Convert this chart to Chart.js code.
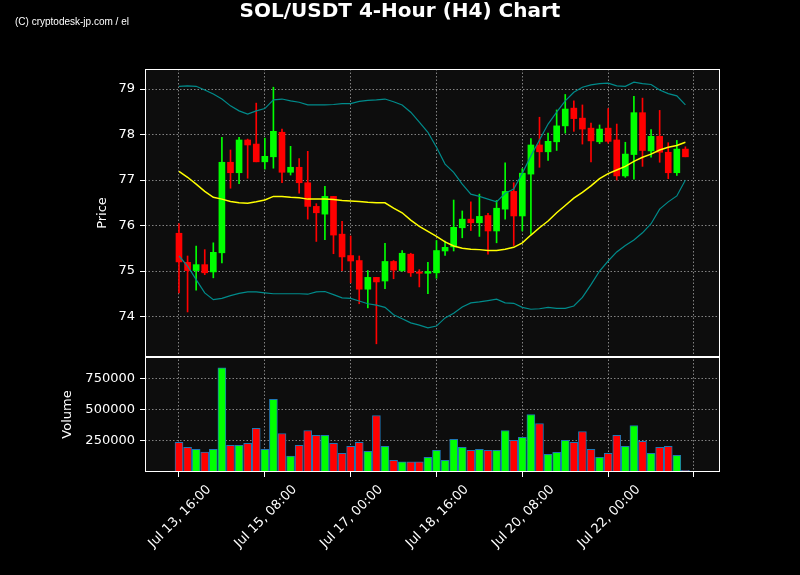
<!DOCTYPE html>
<html>
<head>
<meta charset="utf-8">
<title>SOL/USDT 4-Hour (H4) Chart</title>
<script src="https://cdn.jsdelivr.net/npm/chart.js@4.4.1/dist/chart.umd.min.js"></script>
<style>
  html, body { margin: 0; padding: 0; background: #000; }
  #wrap { position: relative; width: 800px; height: 575px; overflow: hidden; }
  #chart { position: absolute; left: 0; top: 0; }
  #title { position: absolute; left: 0; top: 0; width: 800px; text-align: center;
           font: bold 20px/20px "DejaVu Sans"; color: #fff; }
  #credit { position: absolute; left: 15px; top: 17px; font: 10px/10px "Liberation Sans"; color: #fff; }
</style>
</head>
<body>
<div id="wrap">
  <canvas id="chart" width="800" height="575"></canvas>
  <div id="title">SOL/USDT 4-Hour (H4) Chart</div>
  <div id="credit">(C) cryptodesk-jp.com / el</div>
</div>
<script>
// 4h candles, index 0 = Jul 13 16:00
const tickPositions = [0, 10, 20, 30, 40, 50, 60];
const tickLabels = ["Jul 13, 16:00", "Jul 15, 08:00", "Jul 17, 00:00", "Jul 18, 16:00",
                    "Jul 20, 08:00", "Jul 22, 00:00", ""];
const priceTicks = [74, 75, 76, 77, 78, 79];
const volumeTicks = [250000, 500000, 750000];

const opens = [75.83, 75.19, 75.01, 75.14, 74.98, 75.40, 77.39, 77.16, 77.88, 77.79,
               77.40, 77.51, 78.05, 77.17, 77.28, 76.94, 76.42, 76.25, 76.64, 75.81,
               75.34, 75.23, 74.60, 74.86, 74.78, 75.21, 75.01, 75.37, 74.98, 74.95,
               74.96, 75.44, 75.53, 75.95, 76.14, 76.06, 76.22, 75.88, 76.36, 76.75,
               76.21, 77.13, 77.77, 77.62, 77.84, 78.19, 78.58, 78.36, 78.14, 77.84,
               78.14, 77.88, 77.09, 77.56, 78.48, 77.64, 77.96, 77.61, 77.16, 77.68];
const highs = [76.04, 75.33, 75.55, 75.47, 75.62, 77.94, 77.66, 77.94, 77.90, 78.69,
               77.92, 79.04, 78.12, 77.74, 77.47, 77.63, 76.48, 76.86, 76.64, 76.09,
               75.77, 75.33, 75.01, 74.86, 75.61, 75.23, 75.45, 75.39, 75.03, 75.19,
               75.67, 75.66, 76.56, 76.32, 76.52, 76.69, 76.27, 76.55, 77.38, 76.94,
               77.25, 77.91, 78.38, 78.03, 78.54, 78.88, 78.74, 78.65, 78.25, 78.21,
               78.57, 78.23, 77.83, 78.84, 78.80, 78.11, 78.53, 77.82, 77.87, 77.73];
const lows = [74.52, 74.10, 74.58, 74.92, 74.85, 75.18, 76.82, 76.92, 77.04, 77.40,
              77.24, 77.26, 76.94, 77.11, 76.71, 76.14, 75.65, 75.69, 75.38, 75.01,
              74.74, 74.28, 74.19, 73.40, 74.61, 74.83, 74.99, 74.88, 74.65, 74.50,
              74.84, 75.34, 75.44, 75.73, 75.89, 75.76, 75.37, 75.62, 76.14, 75.56,
              75.88, 75.81, 77.28, 77.43, 77.65, 78.03, 78.07, 77.79, 77.40, 77.80,
              77.81, 77.00, 77.06, 77.02, 77.30, 77.50, 77.39, 77.03, 77.10, 77.51];
const closes = [75.20, 75.01, 75.14, 74.96, 75.41, 77.39, 77.16, 77.88, 77.77, 77.40,
                77.52, 78.07, 77.17, 77.28, 76.94, 76.42, 76.28, 76.64, 75.79, 75.31,
                75.22, 74.60, 74.86, 74.76, 75.21, 75.02, 75.39, 74.96, 74.95, 74.99,
                75.45, 75.52, 75.96, 76.14, 76.06, 76.20, 75.88, 76.38, 76.75, 76.21,
                77.15, 77.77, 77.62, 77.85, 78.19, 78.56, 78.35, 78.12, 77.86, 78.12,
                77.85, 77.09, 77.57, 78.48, 77.65, 77.96, 77.61, 77.16, 77.68, 77.51];
const volumes = [237000, 197000, 181000, 160000, 181000, 836000, 213000, 213000, 229000, 351000,
                 181000, 583000, 309000, 128000, 213000, 333000, 293000, 293000, 229000, 149000,
                 205000, 237000, 165000, 453000, 205000, 93000, 82000, 82000, 82000, 117000,
                 173000, 93000, 261000, 197000, 173000, 181000, 173000, 173000, 333000, 253000,
                 277000, 461000, 389000, 141000, 157000, 253000, 237000, 325000, 181000, 117000,
                 149000, 293000, 205000, 373000, 245000, 149000, 197000, 205000, 133000, 14000];
const sma20 = [77.19, 77.06, 76.91, 76.75, 76.62, 76.58, 76.53, 76.50, 76.49, 76.52,
               76.56, 76.64, 76.64, 76.62, 76.61, 76.58, 76.58, 76.58, 76.57, 76.55,
               76.54, 76.53, 76.51, 76.50, 76.50, 76.38, 76.28, 76.12, 75.98, 75.87,
               75.76, 75.64, 75.55, 75.50, 75.48, 75.47, 75.45, 75.45, 75.48, 75.52,
               75.62, 75.79, 75.95, 76.10, 76.28, 76.44, 76.60, 76.73, 76.87, 77.03,
               77.14, 77.22, 77.30, 77.41, 77.50, 77.57, 77.66, 77.72, 77.76, 77.83];
const bbUpper = [79.06, 79.07, 79.06, 78.98, 78.89, 78.78, 78.63, 78.52, 78.45, 78.52,
                 78.57, 78.76, 78.78, 78.74, 78.71, 78.65, 78.65, 78.65, 78.66, 78.68,
                 78.68, 78.73, 78.75, 78.76, 78.78, 78.72, 78.65, 78.49, 78.27, 78.05,
                 77.72, 77.35, 77.17, 76.91, 76.69, 76.64, 76.58, 76.52, 76.71, 76.80,
                 77.15, 77.53, 77.88, 78.23, 78.49, 78.74, 78.93, 79.04, 79.09, 79.12,
                 79.13, 79.07, 79.06, 79.15, 79.12, 79.10, 78.98, 78.90, 78.85, 78.65];
const bbLower = [75.33, 75.11, 74.81, 74.52, 74.37, 74.40, 74.46, 74.51, 74.54, 74.54,
                 74.52, 74.50, 74.50, 74.50, 74.50, 74.49, 74.54, 74.55, 74.48, 74.41,
                 74.40, 74.34, 74.28, 74.25, 74.20, 74.04, 73.95, 73.86, 73.81, 73.75,
                 73.79, 73.97, 74.07, 74.21, 74.30, 74.32, 74.35, 74.38, 74.30, 74.29,
                 74.20, 74.16, 74.17, 74.20, 74.18, 74.18, 74.23, 74.42, 74.70, 75.00,
                 75.22, 75.42, 75.56, 75.68, 75.84, 76.04, 76.36, 76.52, 76.65, 77.00];

const UP = "#00ff00";
const DOWN = "#ff0000";
const candleColors = opens.map((o, i) => (closes[i] >= o ? UP : DOWN));
const candleIndex = opens.map((_, i) => i);

Chart.defaults.font.family = "DejaVu Sans";
Chart.defaults.font.size = 13;
Chart.defaults.color = "#ffffff";

// dark plot background behind both panels
const panelBackground = {
  id: "panelBackground",
  beforeDraw(chart) {
    const { ctx, chartArea: a } = chart;
    ctx.save();
    ctx.fillStyle = "#0d0d0d";
    ctx.fillRect(a.left, a.top, a.width, a.height);
    ctx.restore();
  }
};

// white frame around price and volume panels
const panelFrames = {
  id: "panelFrames",
  afterDraw(chart) {
    const { ctx, chartArea: a } = chart;
    ctx.save();
    ctx.strokeStyle = "#ffffff";
    ctx.lineWidth = 1;
    ["y", "vol"].forEach(id => {
      const s = chart.scales[id];
      ctx.strokeRect(a.left + 0.5, Math.round(s.top) + 0.5, a.width - 1, Math.round(s.bottom - s.top) - 1);
    });
    ctx.restore();
  }
};

function gridStyle() {
  return {
    color: "rgba(170, 170, 170, 0.75)",
    lineWidth: 1,
    drawTicks: true,
    tickLength: 5,
    tickColor: "#ffffff",
    tickWidth: 1,
    tickBorderDash: []
  };
}
const dotted = { display: false, dash: [1.5, 2] };

new Chart(document.getElementById("chart"), {
  type: "bar",
  data: {
    labels: candleIndex,
    datasets: [
      { type: "line", label: "SMA 20", data: sma20, yAxisID: "y", borderColor: "#ffff00",
        borderWidth: 1.5, pointRadius: 0, order: 0 },
      { type: "line", label: "BB Upper", data: bbUpper, yAxisID: "y", borderColor: "#008b8b",
        borderWidth: 1.2, pointRadius: 0, order: 0 },
      { type: "line", label: "BB Lower", data: bbLower, yAxisID: "y", borderColor: "#008b8b",
        borderWidth: 1.2, pointRadius: 0, order: 0 },
      { label: "Body", data: opens.map((o, i) => [o, closes[i]]), yAxisID: "y",
        backgroundColor: candleColors, barThickness: 6, minBarLength: 1, grouped: false, order: 1 },
      { label: "Wick", data: lows.map((l, i) => [l, highs[i]]), yAxisID: "y",
        backgroundColor: candleColors, barThickness: 1, grouped: false, order: 2 },
      { label: "Volume", data: volumes, yAxisID: "vol", backgroundColor: candleColors,
        borderColor: "#1f77b4", borderWidth: 1, borderSkipped: false, barThickness: 8,
        grouped: false, order: 3 }
    ]
  },
  options: {
    responsive: false,
    animation: false,
    layout: { padding: { top: 69, right: 80, left: 0, bottom: 0 } },
    plugins: {
      legend: { display: false },
      tooltip: { enabled: false },
      title: { display: false }
    },
    scales: {
      x: {
        type: "linear",
        min: -3.96,
        max: 63.03,
        offset: false,
        grid: Object.assign(gridStyle(), { offset: false }),
        border: dotted,
        afterBuildTicks: scale => { scale.ticks = tickPositions.map(v => ({ value: v })); },
        afterFit: scale => { scale.height = 103; },
        ticks: {
          autoSkip: false,
          minRotation: 45,
          maxRotation: 45,
          padding: 5,
          labelOffset: 30,
          callback: v => tickLabels[tickPositions.indexOf(v)]
        }
      },
      // volume listed before price so the stack puts price on top
      vol: {
        type: "linear",
        position: "left",
        stack: "panels",
        stackWeight: 115,
        min: 0,
        max: 922000,
        grid: gridStyle(),
        border: dotted,
        afterBuildTicks: scale => { scale.ticks = volumeTicks.map(v => ({ value: v })); },
        afterFit: scale => { scale.width = 145; },
        ticks: { padding: 5, callback: v => String(v) },
        title: { display: true, text: "Volume", font: { size: 13 }, padding: { top: 60, bottom: 0 } }
      },
      y: {
        type: "linear",
        position: "left",
        stack: "panels",
        stackWeight: 288,
        min: 73.11,
        max: 79.44,
        grid: gridStyle(),
        border: dotted,
        afterBuildTicks: scale => { scale.ticks = priceTicks.map(v => ({ value: v })); },
        afterFit: scale => { scale.width = 145; },
        ticks: { padding: 5, callback: v => String(v) },
        title: { display: true, text: "Price", font: { size: 13 }, padding: { top: 95, bottom: 0 } }
      }
    }
  },
  plugins: [panelBackground, panelFrames]
});
</script>
</body>
</html>
